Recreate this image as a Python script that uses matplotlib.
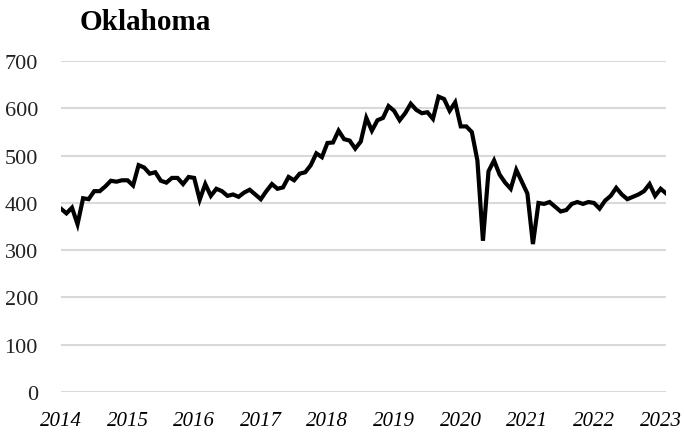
import matplotlib
matplotlib.use("Agg")
import matplotlib.pyplot as plt

title = "Oklahoma"
years = [2014, 2015, 2016, 2017, 2018, 2019, 2020, 2021, 2022, 2023]
values = [
    # 2014
    388, 378, 390, 355, 410, 408, 425, 425, 435, 447, 445, 448,
    # 2015
    448, 437, 480, 475, 462, 465, 447, 443, 453, 453, 440, 455,
    # 2016
    453, 407, 440, 415, 430, 425, 415, 418, 413, 422, 428, 418,
    # 2017
    408, 425, 440, 430, 433, 455, 448, 462, 465, 480, 505, 497,
    # 2018
    527, 528, 553, 535, 532, 515, 530, 580, 553, 575, 580, 605,
    # 2019
    595, 575, 590, 610, 597, 590, 592, 578, 625, 620, 595, 613,
    # 2020
    562, 562, 550, 490, 320, 467, 490, 460, 443, 430, 470, 445,
    # 2021
    420, 313, 400, 398, 402, 392, 382, 385, 398, 402, 398, 402,
    # 2022
    400, 388, 405, 415, 432, 418, 408, 413, 418, 425, 440, 415,
    # 2023
    430, 420,
]
yticks = [0, 100, 200, 300, 400, 500, 600, 700]

plt.rcParams['font.family'] = ['Liberation Serif', 'DejaVu Serif']

fig = plt.figure(figsize=(6.84, 4.35), dpi=100)
ax = fig.add_axes([0.089, 0.0966, 0.885, 0.7604])

x = list(range(len(values)))
ax.plot(x, values, color='black', linewidth=3.0, solid_joinstyle='miter', zorder=3)

ax.set_ylim(0, 700)
ax.set_xlim(0, len(values) - 1)
ax.set_yticks(yticks)
ax.set_yticklabels([str(t) for t in yticks], fontsize=16)
ax.set_xticks([12 * i for i in range(len(years))])
ax.set_xticklabels([str(y) for y in years], fontsize=15, style='italic')
ax.grid(axis='y', color='#d9d9d9', linewidth=1.5)
ax.set_axisbelow(True)
for s in ax.spines.values():
    s.set_visible(False)
ax.tick_params(axis='both', length=0)
ax.tick_params(axis='y', pad=16.5)
ax.tick_params(axis='x', pad=14)
for lbl in ax.get_yticklabels():
    lbl.set_color('#222222')

fig.text(0.212, 0.949, title, fontsize=21, fontweight='bold', ha='center', va='center')

fig.savefig("out.png", dpi=100)
